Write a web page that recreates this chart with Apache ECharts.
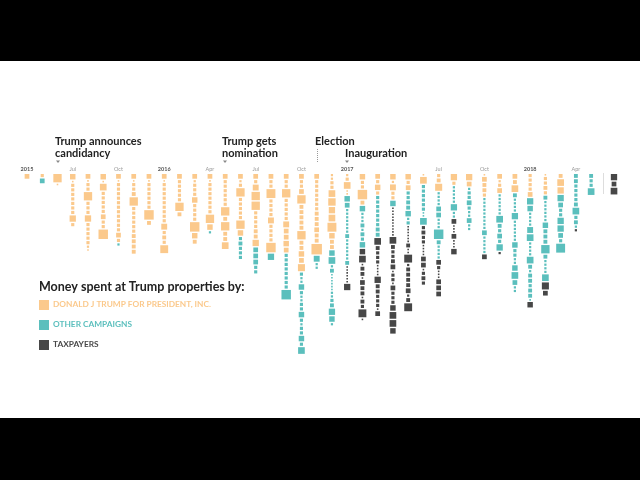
<!DOCTYPE html>
<html><head><meta charset="utf-8">
<script src="https://cdn.jsdelivr.net/npm/echarts@6/dist/echarts.min.js"></script>
<style>
html,body{margin:0;padding:0;background:#000}
#c{width:640px;height:480px;background:linear-gradient(#000 0,#000 61px,#fff 61px,#fff 418px,#000 418px,#000 480px)}
</style>
</head><body><div id="c"></div>
<script>
// Column index (month since Apr 2015); last column = undated taxpayer spending
const monthIndex = [0,1,2,3,4,5,6,7,8,9,10,11,12,13,14,15,16,17,18,19,20,21,22,23,24,25,26,27,28,29,30,31,32,33,34,35,36,37,38.5];
const tickIndex = [0,3,6,9,12,15,18,21,27,30,33,36];
const tickText  = ['2015','Jul','Oct','2016','Apr','Jul','Oct','2017','Jul','Oct','2018','Apr'];
const yearTicks = ['2015','2016','2017','2018'];

// Individual payments (relative amounts) per month, top to bottom
const trumpCampaign = [
  [9],[4],[28,1],
  [12,1,4,4,4,4,4,4,4,16,4],
  [9,1,4,4,28,4,4,4,16,4,4,4,4,4,2,1],
  [12,1,18,4,4,4,4,4,9,4,4,36],
  [9,1,4,4,4,4,4,4,4,4,4,4,4,9,4],
  [9,1,4,4,6,28,4,4,4,4,4,4,6,6,6,6],
  [9,1,4,4,4,4,4,4,36,6],
  [9,1,4,4,4,4,4,4,4,4,4,14,4,6,4,25],
  [9,4,4,4,4,4,28,6],
  [9,2,4,4,4,12,4,4,4,4,36,12,6],
  [9,1,4,4,4,4,4,4,4,28,12],
  [9,4,4,4,4,4,4,28,6,28,6,6,18],
  [9,2,4,28,4,4,4,4,4,28,12],
  [9,4,14,28,28,4,4,4,4,6,6,16],
  [9,4,4,32,4,4,4,4,14,4,4,4,4,36],
  [9,4,4,28,4,4,4,4,4,14,9,9,12,9],
  [9,4,4,9,28,6,6,6,6,6,28,6,6,12,9,20],
  [9,4,4,4,4,4,4,4,6,6,6,9,6,6,44],
  [2,2,4,4,18,22,16,18,32,12,6,6],
  [2,4,18,1,1],
  [12,4,4,36,6],
  [9,4,12,4],
  [12,2,14,4,4],
  [12,4,9],
  [1,18],
  [4,6,20],
  [16,4],
  [16,9],
  [1,9,6,6,4],
  [9,2,4,9],
  [9,6,18],
  [4,4,4,4,9],
  [1,4,4,6,4],
  [6,18,16],
  [],[],[]
];
const otherCampaigns = [
  [],[9],[],[],[],[],[2],[],[],[],[],[],[2],[],
  [4,6,4,4,4],
  [9,9,9,4,4],
  [16],
  [4,4,4,4,4,4,4,4,36],
  [4,2,2,12,4,2,2,4,4,12,4,2,4,4,12,4,18],
  [14,2,2],
  [12,18,2,6,1,1,1,1,1,1,2,2,4,6,16,12,2],
  [12,9,2,2,2,2,2,2,2,6,2,2,2,2,2,2,6],
  [12,2,2,2,6,2,6,4,12],
  [4,4,4,4,4,4,4,6,6],
  [12],
  [4,4,6,6,12,2,4],
  [4,4,4,4,4,4,1,1,18],
  [2,2,2,2,9,9,2,2,2,36,6,2,2,2,2],
  [2,2,2,2,2,16,2,2],
  [2,4,4,9,4,2,2,9,2,2],
  [2,2,2,2,2,2,2,2,2,9,2,2,2,2,2],
  [2,2,2,2,2,2,18,6,4,9,4,16],
  [6,2,2,2,2,16,2,2,2,2,2,2,12,4,4,2,2,12,18,9,2,2],
  [16,12,2,2,2,2,14,18,2,2,2,2,18,6,2,6,6,4,6,6,1],
  [6,2,2,2,2,2,2,12,6,6,6,28,6,2,2,2,2,18],
  [16,9,4,4,16,16,9,4,32],
  [6,6,4,4,4,4,6,18,4,6,2],
  [6,4,4,18],
  []
];
const taxpayers = [
  [],[],[],[],[],[],[],[],[],[],[],[],[],[],[],[],[],[],[],[],[],
  [1,1,1,1,1,1,16],
  [12,18,1,6,6,1,9,6,6,1,6,4,25,1],
  [18,6,4,4,4,1,1,1,1,16,6,6,4,4,4,1,9],
  [1,1,1,1,1,1,1,1,1,1,18,6,4,4,6,9,1,4,4,1,9,4,4,4,12,18,18,12],
  [1,1,1,1,1,1,6,1,1,25,2,6,6,6,6,9,2,6,25],
  [4,6,4,4,1,1,1,1,9,9,1,4,6,4],
  [9,4,1,1,1,9,9,9],
  [9,1,1,1,9,1,1,1,12],
  [],
  [9],
  [2],
  [],
  [12],
  [20,9],
  [],
  [2],
  [],
  [16,9,18]
];

const COLORS = ['#fbc98c','#5bbfbd','#474747'];
const GAP = 0.87;
const items = [];
for (let i = 0; i < monthIndex.length; i++) {
  let y = 0;
  [trumpCampaign[i], otherCampaigns[i], taxpayers[i]].forEach((arr, cat) => {
    arr.forEach(v => {
      const s = Math.sqrt(v);
      items.push([monthIndex[i], y, y + s, cat, v]);
      y += s + GAP;
    });
  });
}

const chart = echarts.init(document.getElementById('c'));
const FONT = 'Lato';
function tri(x) {
  return {type:'polygon', shape:{points:[[x-2,160.5],[x+2,160.5],[x,163]]}, style:{fill:'#888'}};
}
chart.setOption({
  animation:false,
  grid:{left:27,right:26,top:174,bottom:126},
  xAxis:{type:'value',min:0,max:38.5,interval:1,position:'top',
    axisLine:{show:false},axisTick:{show:false},splitLine:{show:false},
    axisLabel:{margin:2,showMaxLabel:false,showMinLabel:true,
      formatter:v=>{const k=tickIndex.indexOf(v); if(k<0) return ''; const t=tickText[k]; return yearTicks.includes(t)?'{y|'+t+'}':'{m|'+t+'}';},
      rich:{y:{fontSize:5.5,fontWeight:'bold',color:'#555',fontFamily:FONT},m:{fontSize:5.5,color:'#999',fontFamily:FONT}}}},
  yAxis:{type:'value',min:0,max:114.3,inverse:true,show:false},
  series:[{type:'custom',clip:false,data:items,
    renderItem:(params,api)=>{
      const p0=api.coord([api.value(0),api.value(1)]);
      const p1=api.coord([api.value(0),api.value(2)]);
      const s=p1[1]-p0[1];
      return {type:'rect',shape:{x:p0[0]-s/2,y:p0[1],width:s,height:s},
        style:{fill:COLORS[api.value(3)]}};
    }}],
  graphic:[
    {type:'text',left:55,top:136,style:{text:'Trump announces\ncandidancy',font:'bold 11px Lato',fill:'#222',lineHeight:11.5}},
    tri(58),
    {type:'text',left:222,top:136,style:{text:'Trump gets\nnomination',font:'bold 11px Lato',fill:'#222',lineHeight:11.5}},
    tri(225),
    {type:'text',left:315,top:136,style:{text:'Election',font:'bold 11px Lato',fill:'#222'}},
    {type:'line',shape:{x1:317.5,y1:149,x2:317.5,y2:163},style:{stroke:'#999',lineWidth:1,lineDash:[1,1]}},
    {type:'text',left:345,top:147.5,style:{text:'Inauguration',font:'bold 11px Lato',fill:'#222'}},
    tri(347),
    {type:'line',shape:{x1:603.5,y1:173,x2:603.5,y2:194},style:{stroke:'#ddd',lineWidth:1}},
    {type:'text',left:39,top:280,style:{text:'Money spent at Trump properties by:',font:'bold 12.5px Lato',fill:'#222'}},
    {type:'rect',shape:{x:39,y:300,width:10,height:10},style:{fill:COLORS[0]}},
    {type:'text',left:53,top:300.5,style:{text:'DONALD J TRUMP FOR PRESIDENT, INC.',font:'bold 8.3px Lato',fill:COLORS[0]}},
    {type:'rect',shape:{x:39,y:320,width:10,height:10},style:{fill:COLORS[1]}},
    {type:'text',left:53,top:320.5,style:{text:'OTHER CAMPAIGNS',font:'bold 8.3px Lato',fill:COLORS[1]}},
    {type:'rect',shape:{x:39,y:340,width:10,height:10},style:{fill:COLORS[2]}},
    {type:'text',left:53,top:340.5,style:{text:'TAXPAYERS',font:'bold 8.3px Lato',fill:COLORS[2]}}
  ]
});
</script>
</body></html>
